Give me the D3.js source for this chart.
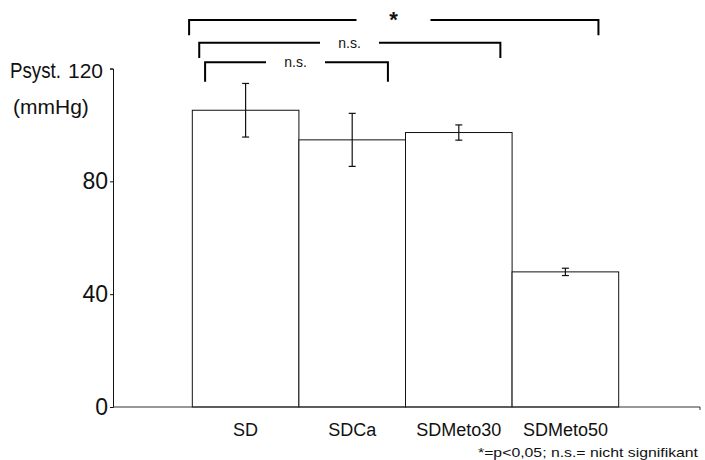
<!DOCTYPE html>
<html>
<head>
<meta charset="utf-8">
<script src="https://cdn.jsdelivr.net/npm/d3@7"></script>
<style>
  html, body { margin: 0; padding: 0; background: #fff; }
  svg { display: block; font-family: "Liberation Sans", Arial, Helvetica, sans-serif; }
</style>
</head>
<body>
<svg id="chart" width="705" height="460"></svg>
<script>
// Systolic blood pressure per group (mmHg), mean and error
const groups = ["SD", "SDCa", "SDMeto30", "SDMeto50"];
const means  = [105.2, 94.7, 97.3, 47.9];
const errors = [9.5, 9.4, 2.7, 1.3];
const yTicks = [0, 40, 80, 120];

// Significance brackets: groups compared, label, bracket height and leg end (mmHg scale)
const bracketFrom  = ["SD", "SD", "SD"];
const bracketTo    = ["SDCa", "SDMeto30", "SDMeto50"];
const bracketLabel = ["n.s.", "n.s.", "*"];
const bracketTop   = [122.2, 129.1, 137.2];
const bracketLeg   = [115.3, 123.7, 131.8];

const footnote = "*=p<0,05; n.s.= nicht signifikant";

const FONT = "'Liberation Sans', Arial, sans-serif";
const svg = d3.select("#chart");
const x0 = 113, x1 = 698, yBase = 407, yTopPx = 68.5;

const x = d3.scaleBand().domain(groups).range([x0, x1])
  .paddingInner(0).paddingOuter(0.744);
const y = d3.scaleLinear().domain([0, 120]).range([yBase, yTopPx]);

// Bars
svg.append("g").selectAll("rect").data(groups).join("rect")
  .attr("x", d => x(d))
  .attr("y", (d, i) => y(means[i]))
  .attr("width", x.bandwidth())
  .attr("height", (d, i) => y(0) - y(means[i]))
  .attr("fill", "#fff")
  .attr("stroke", "#111")
  .attr("stroke-width", 1);

// Error bars
const eb = svg.append("g").attr("stroke", "#111").attr("stroke-width", 1.2);
groups.forEach((g, i) => {
  const cx = x(g) + x.bandwidth() / 2;
  const hi = y(means[i] + errors[i]), lo = y(means[i] - errors[i]);
  eb.append("line").attr("x1", cx).attr("x2", cx).attr("y1", hi).attr("y2", lo);
  eb.append("line").attr("x1", cx - 3.5).attr("x2", cx + 3.5).attr("y1", hi).attr("y2", hi);
  eb.append("line").attr("x1", cx - 3.5).attr("x2", cx + 3.5).attr("y1", lo).attr("y2", lo);
});

// Y axis
const yAxis = d3.axisLeft(y).tickValues(yTicks).tickSize(3).tickSizeOuter(3).tickPadding(2);
const gy = svg.append("g").attr("transform", `translate(${x0},0)`).call(yAxis);
gy.selectAll("path, line").attr("stroke", "#111");
gy.selectAll("text").attr("font-size", 23).attr("fill", "#111").attr("font-family", FONT);
// top tick label sits right after the axis title
gy.selectAll(".tick text").filter(d => d === 120)
  .attr("font-size", 21).attr("x", -10).attr("dy", "0.42em");

// X axis line with an end tick
const xAxis = d3.axisBottom(x).tickSize(0).tickSizeOuter(0).tickPadding(16);
const gx = svg.append("g").attr("transform", `translate(0,${yBase})`).call(xAxis);
gx.select(".domain").attr("stroke", "#333").attr("d", `M${x0},0H${x1 + 2}V3`);
gx.selectAll("text").attr("font-size", 18).attr("fill", "#111").attr("font-family", FONT);

// Axis title
svg.append("text").attr("x", 10).attr("y", 77.5).attr("font-size", 22).attr("fill", "#111")
  .attr("textLength", 51).attr("lengthAdjust", "spacingAndGlyphs").text("Psyst.");
svg.append("text").attr("x", 13).attr("y", 114).attr("font-size", 21).attr("fill", "#111")
  .text("(mmHg)");

// Brackets
const leftFrac  = [0.12, 0.065, -0.03];
const rightFrac = [0.835, 0.89, 0.81];
const gapHalf   = [29.5, 29.5, 37];
const bg = svg.append("g").attr("fill", "none").attr("stroke", "#000").attr("stroke-width", 2);
bracketFrom.forEach((f, i) => {
  const xl = x(f) + leftFrac[i] * x.bandwidth();
  const xr = x(bracketTo[i]) + rightFrac[i] * x.bandwidth();
  const yt = y(bracketTop[i]), yl = y(bracketLeg[i]);
  const mid = i === 2 ? 393.5 : (i === 1 ? 349.5 : 295.5);
  bg.append("path").attr("d", `M${xl},${yl}V${yt}H${mid - gapHalf[i]}`);
  bg.append("path").attr("d", `M${mid + gapHalf[i]},${yt}H${xr}V${yl}`);
  const star = bracketLabel[i] === "*";
  svg.append("text").attr("x", mid).attr("y", star ? yt + 7 : yt + 5)
    .attr("text-anchor", "middle")
    .attr("font-size", star ? 22 : 14)
    .attr("font-weight", star ? "bold" : "normal")
    .attr("fill", "#111")
    .text(bracketLabel[i]);
});

// Footnote
svg.append("text").attr("x", 698).attr("y", 457).attr("text-anchor", "end")
  .attr("font-size", 13.5).attr("fill", "#111")
  .attr("textLength", 220).attr("lengthAdjust", "spacingAndGlyphs").text(footnote);
</script>
</body>
</html>
